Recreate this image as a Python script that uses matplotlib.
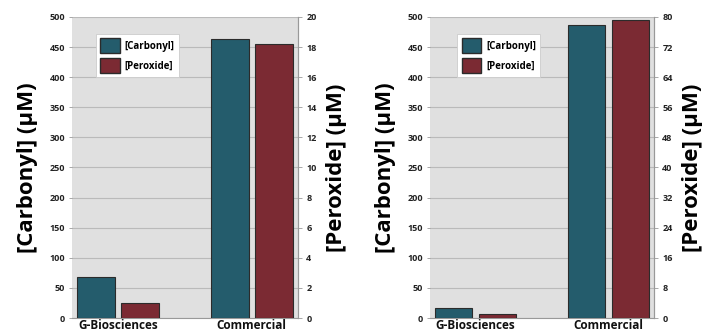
import numpy as np
import matplotlib.pyplot as plt
from matplotlib.patches import Patch

# Data
categories = ["G-Biosciences", "Commercial"]
carbonyl_left = [68, 463]
peroxide_left = [1.0, 18.2]
carbonyl_right = [17, 486]
peroxide_right = [1.1, 79.3]

carb_ticks = [0, 50, 100, 150, 200, 250, 300, 350, 400, 450, 500]
perox_ticks_left = [0, 2, 4, 6, 8, 10, 12, 14, 16, 18, 20]
perox_ticks_right = [0, 8, 16, 24, 32, 40, 48, 56, 64, 72, 80]

CARB_COLOR = "#245c6c"
PEROX_COLOR = "#7b2a33"
EDGE = "#2b2b2b"
BG = "#e0e0e0"
FONT = "Open Sans"

plt.rcParams['font.family'] = [FONT, 'DejaVu Sans']

fig = plt.figure(figsize=(7.09, 3.34), dpi=100)
W, H = 709, 334


def panel(x0, x1, carb, perox, perox_ticks, legend_x):
    ax = fig.add_axes([x0 / W, (H - 318) / H, (x1 - x0) / W, 301 / H])
    ax.set_facecolor(BG)
    x = np.arange(len(categories))
    off, bw = 0.165, 0.28
    ax.bar(x - off, carb, bw, color=CARB_COLOR, edgecolor=EDGE, linewidth=0.8, zorder=3)
    ax.set_ylim(0, 500)
    ax.set_yticks(carb_ticks)
    ax.set_xlim(-0.345, 1.345)
    ax.set_xticks(x)
    ax.set_xticklabels(categories, fontsize=8.5, fontweight='bold', color='#111111')
    ax.tick_params(axis='x', length=0, pad=1)
    ax.tick_params(axis='y', length=2, width=0.6, color='#999999', labelsize=6.5,
                   labelcolor='#222222', pad=3)
    for lbl in ax.get_yticklabels():
        lbl.set_fontweight('bold')
    ax.grid(axis='y', color='#bababa', linewidth=0.8, zorder=0)
    for s in ['top', 'left']:
        ax.spines[s].set_visible(False)
    ax.spines['bottom'].set_color('#999999')
    ax.spines['right'].set_color('#999999')
    ax.set_ylabel("[Carbonyl] (μM)", fontsize=16, fontweight='bold', labelpad=8)

    ax2 = ax.twinx()
    ax2.bar(x + off, perox, bw, color=PEROX_COLOR, edgecolor=EDGE, linewidth=0.8, zorder=3)
    ax2.set_ylim(perox_ticks[0], perox_ticks[-1])
    ax2.set_yticks(perox_ticks)
    ax2.tick_params(axis='y', length=3, width=0.6, color='#999999', labelsize=6.5,
                    labelcolor='#222222', pad=3)
    for lbl in ax2.get_yticklabels():
        lbl.set_fontweight('bold')
    for s in ['top', 'left', 'bottom']:
        ax2.spines[s].set_visible(False)
    ax2.spines['right'].set_color('#999999')
    ax2.set_ylabel("[Peroxide] (μM)", fontsize=16, fontweight='bold', labelpad=7)

    handles = [Patch(facecolor=CARB_COLOR, edgecolor=EDGE, label="[Carbonyl]"),
               Patch(facecolor=PEROX_COLOR, edgecolor=EDGE, label="[Peroxide]")]
    leg = ax2.legend(handles=handles, loc='upper left', bbox_to_anchor=(legend_x, 0.96),
                     prop={'family': FONT, 'weight': 'bold', 'size': 7},
                     handlelength=2.0, handleheight=2.0, handletextpad=0.5,
                     labelspacing=0.45, borderpad=0.45, fancybox=False,
                     framealpha=1, edgecolor='#cccccc')
    leg.get_frame().set_linewidth(0.6)


panel(72, 298, carbonyl_left, peroxide_left, perox_ticks_left, 0.085)
panel(430, 654, carbonyl_right, peroxide_right, perox_ticks_right, 0.10)

fig.savefig("out.png", dpi=100, facecolor='white')
